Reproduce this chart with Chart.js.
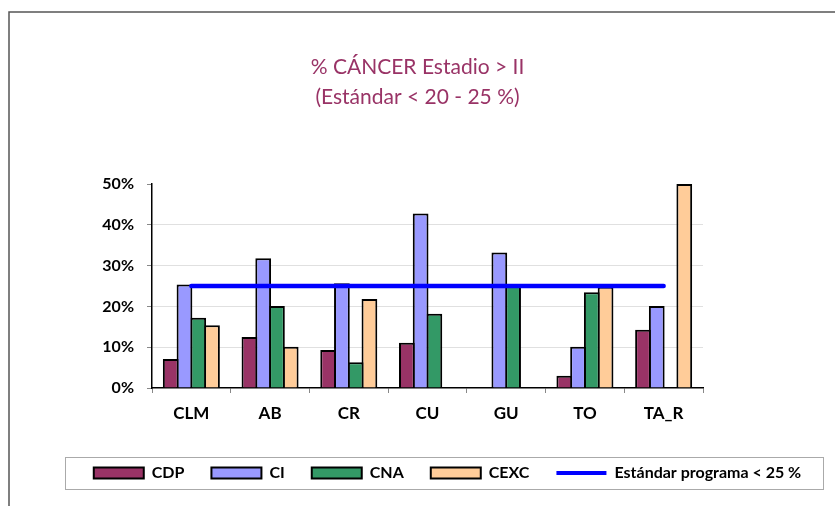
<!DOCTYPE html>
<html>
<head>
<meta charset="utf-8">
<script src="https://cdn.jsdelivr.net/npm/chart.js@4/dist/chart.umd.min.js"></script>
<style>
  html, body { margin: 0; padding: 0; background: #fff; }
  #wrap { width: 835px; height: 506px; }
</style>
</head>
<body>
<div id="wrap"><canvas id="c" width="835" height="506"></canvas></div>
<script>
const categories = ['CLM', 'AB', 'CR', 'CU', 'GU', 'TO', 'TA_R'];
const cdp  = [7.1, 12.5, 9.3, 11.1, null, 3.0, 14.3];
const ci   = [25.4, 31.8, 25.7, 42.8, 33.2, 10.1, 20.1];
const cna  = [17.2, 20.1, 6.3, 18.2, 25.0, 23.5, null];
const cexc = [15.4, 10.1, 21.8, null, null, 24.8, 50.0];
const estandar = [25, 25, 25, 25, 25, 25, 25];
const yTicks = [0, 10, 20, 30, 40, 50];
const titleLines = ['% CÁNCER Estadio > II', '(Estándar < 20 - 25 %)'];
const seriesNames = ['CDP', 'CI', 'CNA', 'CEXC', 'Estándar programa < 25 %'];

const FONT = 'Lato, "Open Sans", sans-serif';

const framePlugin = {
  id: 'frame',
  afterLayout(chart) {
    const lg = chart.legend;
    if (lg) { lg.left += 30; lg.right += 30; }
  },
  beforeDraw(chart) {
    const ctx = chart.ctx;
    ctx.save();
    ctx.strokeStyle = '#555';
    ctx.lineWidth = 1.5;
    ctx.beginPath();
    ctx.moveTo(9, 506);
    ctx.lineTo(9, 12);
    ctx.lineTo(835, 12);
    ctx.stroke();
    ctx.restore();
  },
  afterDraw(chart) {
    const lg = chart.legend;
    if (!lg || !lg.legendHitBoxes || !lg.legendHitBoxes.length) return;
    const hb = lg.legendHitBoxes;
    let minX = Infinity, maxX = -Infinity, cy = 0;
    hb.forEach(h => { minX = Math.min(minX, h.left); maxX = Math.max(maxX, h.left + h.width); cy = h.top + h.height / 2; });
    const ctx = chart.ctx;
    ctx.save();
    ctx.strokeStyle = '#aaa';
    ctx.lineWidth = 1;
    const x0 = Math.round(minX - 29) + 0.5, x1 = Math.round(maxX + 22) + 0.5;
    const y0 = Math.round(cy - 16) + 0.5, y1 = Math.round(cy + 16) + 0.5;
    ctx.strokeRect(x0, y0, x1 - x0, y1 - y0);
    ctx.restore();
  }
};

const barCommon = { borderColor: '#000', borderWidth: 2, categoryPercentage: 0.699, barPercentage: 1.145, order: 1 };

new Chart(document.getElementById('c'), {
  type: 'bar',
  data: {
    labels: categories,
    datasets: [
      Object.assign({ label: seriesNames[0], data: cdp,  backgroundColor: '#993366' }, barCommon),
      Object.assign({ label: seriesNames[1], data: ci,   backgroundColor: '#9999FF' }, barCommon),
      Object.assign({ label: seriesNames[2], data: cna,  backgroundColor: '#339966' }, barCommon),
      Object.assign({ label: seriesNames[3], data: cexc, backgroundColor: '#FFCC99' }, barCommon),
      { type: 'line', label: seriesNames[4], data: estandar, borderColor: '#0000FF', backgroundColor: '#0000FF',
        borderWidth: 4.5, pointRadius: 0, borderCapStyle: 'round', fill: false, order: 0 }
    ]
  },
  options: {
    responsive: false,
    devicePixelRatio: 1,
    animation: false,
    layout: { padding: { left: 0, right: 0, top: 0, bottom: 15 } },
    plugins: {
      tooltip: { enabled: false },
      title: {
        display: true,
        text: titleLines,
        color: '#993366',
        font: { family: FONT, size: 21, weight: 'normal', lineHeight: 1.43 },
        padding: { top: 52, bottom: 72 }
      },
      legend: {
        position: 'bottom',
        labels: {
          color: '#000',
          font: { family: FONT, size: 16, weight: 'bold' },
          usePointStyle: true,
          pointStyleWidth: 50,
          boxWidth: 50,
          boxHeight: 11,
          padding: 27,
          sort: (a, b) => a.datasetIndex - b.datasetIndex,
          generateLabels(chart) {
            const items = Chart.defaults.plugins.legend.labels.generateLabels(chart);
            return items.map(it => {
              if (it.datasetIndex === 4) {
                return Object.assign(it, { pointStyle: 'line', strokeStyle: '#0000FF', lineWidth: 4, fillStyle: '#0000FF' });
              }
              return Object.assign(it, { pointStyle: 'rect', strokeStyle: '#000', lineWidth: 2 });
            });
          }
        }
      }
    },
    scales: {
      x: {
        grid: { display: true, drawOnChartArea: false, offset: true, tickLength: 5, color: '#888', tickColor: '#888' },
        border: { display: true, color: '#000', width: 1.5 },
        ticks: { color: '#000', font: { family: FONT, size: 17, weight: 'bold' }, padding: 10 },
        afterFit(s) { s.height = 50; }
      },
      y: {
        min: 0, max: 50,
        afterBuildTicks(s) { s.ticks = yTicks.map(v => ({ value: v })); },
        grid: {
          color: c => (c.tick && (c.tick.value === 0 || c.tick.value === 50)) ? 'rgba(0,0,0,0)' : '#e0e0e0',
          tickColor: '#888', tickLength: 5, lineWidth: 1
        },
        border: { display: true, color: '#000', width: 1.5 },
        ticks: { color: '#000', font: { family: FONT, size: 16, weight: 'bold' }, padding: 13, callback: v => v + '%' },
        afterFit(s) { s.width = 152; }
      },
      yR: {
        type: 'linear', position: 'right', display: true,
        grid: { display: false }, ticks: { display: false }, border: { display: false },
        afterFit(s) { s.width = 132; }
      }
    }
  },
  plugins: [framePlugin]
});
</script>
</body>
</html>
